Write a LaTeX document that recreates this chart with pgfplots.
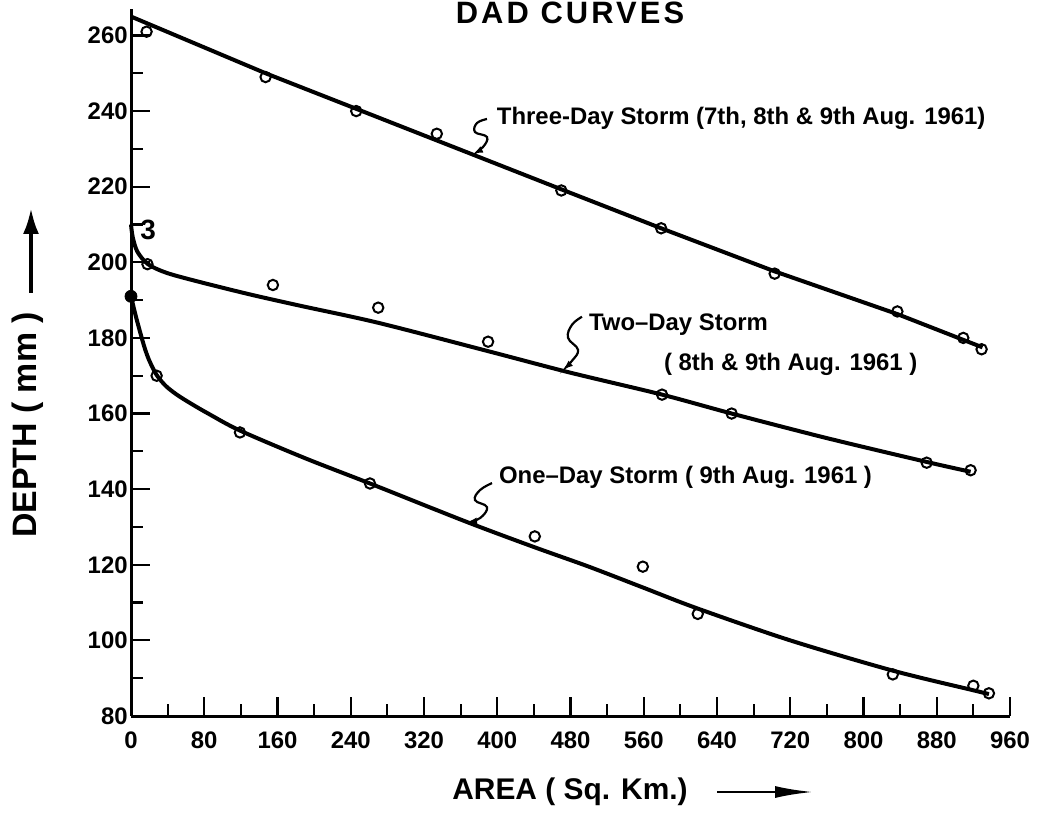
\documentclass[border=0pt]{standalone}
\usepackage{fontspec}
\setmainfont{Liberation Sans}
\usepackage{pgfplots}
\pgfplotsset{compat=1.18}
\usetikzlibrary{arrows.meta}

\newcommand{\annfont}{\fontsize{12}{14}\selectfont\bfseries}
\tikzset{squig/.style={line width=1.1bp, -{Latex[length=5bp,width=3.5bp]}}}

\begin{document}
\begin{tikzpicture}
\begin{axis}[
  at={(0,0)}, anchor=south west,
  scale only axis, width=439.5bp, height=353.5bp,
  xmin=0, xmax=960, ymin=80, ymax=267,
  axis x line*=bottom, axis y line*=left,
  axis line style={line width=1.5bp},
  xtick={0,80,...,960}, ytick={80,100,...,260},
  minor x tick num=1, minor y tick num=1,
  tick align=inside,
  major tick length=9.5bp, minor tick length=6bp,
  every tick/.style={line width=1.1bp, black},
  ticklabel style={font=\fontsize{12}{14}\selectfont\bfseries},
  /pgf/number format/assume math mode=true,
  xticklabel style={yshift=-4.5bp},
  yticklabel style={inner xsep=1.5bp},
  clip=false,
]
% three-day storm (7th, 8th & 9th Aug 1961)
\addplot[black, line width=2bp] coordinates {
  (0,265) (147,250) (246,240.6) (470,219.3) (579,209) (703,197.6) (837,186.3) (930,177.5)};
% two-day storm (8th & 9th Aug 1961)
\addplot[black, line width=2bp, smooth, tension=0.5] coordinates {
  (0,210) (2,206.5) (7,202.8) (18.6,199.5) (39,197.2) (75,194.8) (130,191.5)
  (185,188.5) (270,184) (390,176.5) (480,170.8) (580,165) (656,160)
  (760,153.5) (869,147.2) (917,144.6)};
% one-day storm (9th Aug 1961)
\addplot[black, line width=2bp, smooth, tension=0.5] coordinates {
  (0,191) (5,186) (10,181.5) (15,177.3) (20,174) (28,170.2) (38,167.3)
  (50,165) (65,162.7) (85,159.9) (119,155.5) (190,148.2) (261,141.5)
  (367,131.3) (440,124.7) (500,119.5) (559,114) (618,108.5) (720,100)
  (832,92) (920,86.8) (937,85.8)};

% observed points
\addplot[only marks, mark=o, mark size=2.6bp, mark options={fill=white, line width=1bp}] coordinates {
  (17,261) (147,249) (246,240) (334,234) (470,219) (579,209) (703,197)
  (837,187) (909,180) (929,177)};
\addplot[only marks, mark=o, mark size=2.6bp, mark options={fill=white, line width=1bp}] coordinates {
  (18,199.5) (155,194) (270,188) (390,179) (580,165) (656,160) (869,147) (917,145)};
\addplot[only marks, mark=o, mark size=2.6bp, mark options={fill=white, line width=1bp}] coordinates {
  (28,170) (119,155) (261,141.5) (441,127.5) (559,119.5) (619,107) (832,91)
  (920,88) (937,86)};
\addplot[only marks, mark=*, mark size=3bp, black] coordinates {(0,191)};

% labels
\node[anchor=west, font=\annfont] at (axis cs:392,238.2) {Three-Day Storm (7th, 8th \& 9th Aug. 1961)};
\coordinate (s3) at (axis cs:388.8,237.9);
\node[anchor=west, font=\annfont] at (axis cs:492.6,183.4) {Two--Day Storm};
\node[anchor=west, font=\annfont] at (axis cs:574.5,172.9) {( 8th \& 9th Aug. 1961 )};
\coordinate (s2) at (axis cs:492.6,185.6);
\node[anchor=west, font=\annfont] at (axis cs:394.3,143.2) {One--Day Storm ( 9th Aug. 1961 )};
\coordinate (s1) at (axis cs:394.3,141.6);
\node[font=\fontsize{14}{16}\selectfont\bfseries] at (axis cs:18.6,208.6) {3};
\end{axis}

% leaders from the labels to the curves
\draw[squig, shift={(s3)}] plot[smooth, tension=0.7] coordinates {
  (0bp,0bp) (-5bp,-2bp) (-6bp,-6.5bp) (0bp,-9bp) (-2bp,-14bp) (-7bp,-17.5bp)};
\draw[squig, shift={(s2)}] plot[smooth, tension=0.7] coordinates {
  (0bp,0bp) (-5bp,-4bp) (-7bp,-10.5bp) (-2bp,-16.5bp) (-5bp,-22bp) (-9.5bp,-26.5bp)};
\draw[squig, shift={(s1)}] plot[smooth, tension=0.7] coordinates {
  (0bp,0bp) (-6bp,-3.5bp) (-8.5bp,-8.5bp) (-2.5bp,-12bp) (-6bp,-17.5bp) (-12.5bp,-19.5bp)};

% axis titles with arrows
\node[rotate=90, font=\fontsize{17}{20}\selectfont\bfseries] at (-51.5bp,145.5bp) {DEPTH ( mm )};
\draw[line width=2bp, -{Latex[length=13bp,width=8bp]}] (-50bp,211.5bp) -- (-50bp,254bp);
\node[font=\fontsize{15}{18}\selectfont\bfseries] at (219.5bp,-38bp) {AREA ( Sq. Km.)};
\draw[line width=1.3bp, -{Latex[length=19bp,width=6bp]}] (293bp,-38bp) -- (341bp,-38bp);
\node[anchor=base, font={\fontsize{15.5}{18}\selectfont\bfseries\addfontfeatures{LetterSpace=10}}] at (219.5bp,346bp) {DAD CURVES};

\pgfresetboundingbox
\useasboundingbox (-65.5bp,-53bp) rectangle (456.5bp,358bp);
\end{tikzpicture}
\end{document}
